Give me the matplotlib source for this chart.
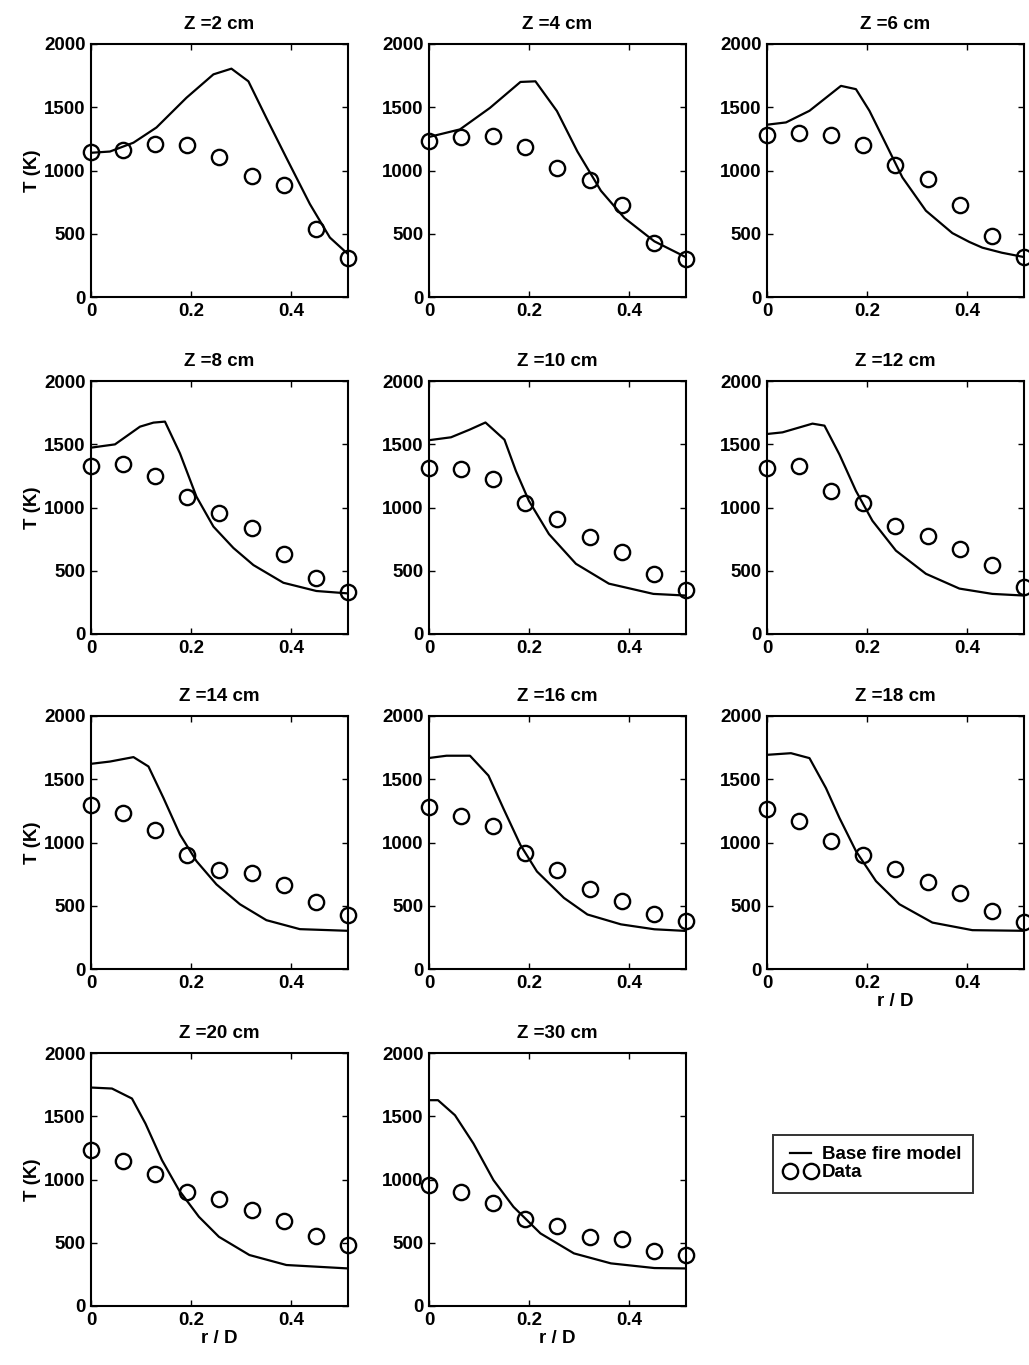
import matplotlib
matplotlib.use("Agg")
import matplotlib.pyplot as plt
from matplotlib.lines import Line2D

plt.rcParams["font.family"] = ["Liberation Sans", "DejaVu Sans"]
plt.rcParams["font.weight"] = "bold"

# Measurement radii (r/D)
r_data = [0, 0.0643, 0.1286, 0.1929, 0.2571, 0.3214, 0.3857, 0.45, 0.5143]

# Heights (cm)
heights = [2, 4, 6, 8, 10, 12, 14, 16, 18, 20, 30]

# Base fire model profiles (r/D, T in K) and measured temperatures
model_r_z2 = [0, 0.038, 0.085, 0.131, 0.191, 0.245, 0.281, 0.315, 0.351, 0.391, 0.438, 0.478, 0.514]
model_T_z2 = [1140, 1150, 1220, 1340, 1575, 1760, 1805, 1705, 1415, 1100, 735, 470, 340]
data_T_z2 = [1150, 1160, 1210, 1205, 1105, 955, 885, 540, 310]

model_r_z4 = [0, 0.062, 0.122, 0.183, 0.213, 0.256, 0.297, 0.344, 0.391, 0.451, 0.514]
model_T_z4 = [1265, 1325, 1495, 1700, 1705, 1470, 1150, 840, 625, 440, 315]
data_T_z4 = [1232, 1266, 1276, 1182, 1016, 921, 726, 424, 303]

model_r_z6 = [0, 0.038, 0.085, 0.148, 0.178, 0.205, 0.238, 0.271, 0.318, 0.371, 0.405, 0.431, 0.47, 0.514]
model_T_z6 = [1362, 1380, 1472, 1669, 1643, 1472, 1209, 945, 682, 505, 435, 390, 350, 316]
data_T_z6 = [1282, 1295, 1277, 1198, 1045, 932, 727, 479, 316]

model_r_z8 = [0, 0.048, 0.098, 0.125, 0.148, 0.178, 0.211, 0.245, 0.285, 0.325, 0.385, 0.451, 0.514]
model_T_z8 = [1473, 1499, 1639, 1671, 1679, 1428, 1086, 849, 680, 545, 405, 340, 321]
data_T_z8 = [1328, 1341, 1252, 1086, 954, 835, 632, 440, 335]

model_r_z10 = [0, 0.044, 0.081, 0.113, 0.151, 0.174, 0.2, 0.24, 0.294, 0.36, 0.449, 0.514]
model_T_z10 = [1532, 1555, 1615, 1672, 1536, 1288, 1052, 790, 555, 398, 317, 304]
data_T_z10 = [1309, 1301, 1223, 1034, 909, 764, 652, 476, 346]

model_r_z12 = [0, 0.031, 0.091, 0.115, 0.145, 0.178, 0.211, 0.258, 0.318, 0.385, 0.451, 0.514]
model_T_z12 = [1581, 1594, 1663, 1647, 1419, 1131, 895, 659, 476, 359, 317, 304]
data_T_z12 = [1309, 1327, 1131, 1034, 856, 778, 673, 547, 372]

model_r_z14 = [0, 0.038, 0.085, 0.115, 0.145, 0.178, 0.211, 0.251, 0.298, 0.351, 0.418, 0.514]
model_T_z14 = [1622, 1640, 1675, 1601, 1352, 1063, 853, 669, 512, 386, 315, 302]
data_T_z14 = [1299, 1234, 1097, 900, 780, 761, 661, 533, 425]

model_r_z16 = [0, 0.035, 0.082, 0.119, 0.149, 0.183, 0.216, 0.27, 0.317, 0.384, 0.451, 0.514]
model_T_z16 = [1668, 1686, 1686, 1529, 1268, 980, 771, 562, 431, 353, 314, 301]
data_T_z16 = [1281, 1210, 1132, 915, 779, 633, 536, 437, 379]

model_r_z18 = [0, 0.048, 0.085, 0.118, 0.145, 0.178, 0.218, 0.265, 0.331, 0.411, 0.514]
model_T_z18 = [1693, 1706, 1667, 1430, 1194, 932, 695, 512, 367, 307, 302]
data_T_z18 = [1268, 1173, 1011, 900, 787, 688, 598, 459, 368]

model_r_z20 = [0, 0.042, 0.082, 0.109, 0.142, 0.176, 0.216, 0.256, 0.317, 0.391, 0.514]
model_T_z20 = [1727, 1719, 1640, 1442, 1153, 916, 705, 547, 403, 324, 297]
data_T_z20 = [1232, 1145, 1047, 903, 845, 758, 671, 553, 482]

model_r_z30 = [0, 0.018, 0.052, 0.089, 0.129, 0.169, 0.223, 0.29, 0.364, 0.451, 0.514]
model_T_z30 = [1627, 1627, 1508, 1284, 995, 784, 574, 416, 337, 300, 297]
data_T_z30 = [958, 903, 813, 687, 629, 547, 529, 437, 403]

model_r = [model_r_z2, model_r_z4, model_r_z6, model_r_z8, model_r_z10, model_r_z12,
           model_r_z14, model_r_z16, model_r_z18, model_r_z20, model_r_z30]
model_T = [model_T_z2, model_T_z4, model_T_z6, model_T_z8, model_T_z10, model_T_z12,
           model_T_z14, model_T_z16, model_T_z18, model_T_z20, model_T_z30]
data_T = [data_T_z2, data_T_z4, data_T_z6, data_T_z8, data_T_z10, data_T_z12,
          data_T_z14, data_T_z16, data_T_z18, data_T_z20, data_T_z30]

x_ticks = [0, 0.2, 0.4]
x_ticklabels = ["0", "0.2", "0.4"]
y_ticks = [0, 500, 1000, 1500, 2000]

W, H = 1029, 1365
fig = plt.figure(figsize=(W / 100, H / 100), dpi=100)

col_left = [91, 429, 767]
row_top = [44, 381, 716, 1053]
ax_w, ax_h = 257, 253
FS = 13.5

for i, z in enumerate(heights):
    row, col = divmod(i, 3)
    left = col_left[col] / W
    bottom = 1 - (row_top[row] + ax_h) / H
    ax = fig.add_axes([left, bottom, ax_w / W, ax_h / H])
    ax.plot(model_r[i], model_T[i], color="black", lw=1.6, solid_joinstyle="round")
    ax.plot(r_data, data_T[i], linestyle="none", marker="o", markersize=11,
            markerfacecolor="none", markeredgecolor="black", markeredgewidth=1.7,
            clip_on=False)
    ax.set_xlim(0, 0.5143)
    ax.set_ylim(0, 2000)
    ax.set_xticks(x_ticks)
    ax.set_xticklabels(x_ticklabels)
    ax.set_yticks(y_ticks)
    ax.tick_params(direction="in", length=4, width=1, top=True, right=True,
                   labelsize=FS, pad=4)
    for lab in ax.get_xticklabels() + ax.get_yticklabels():
        lab.set_fontweight("bold")
    for sp in ax.spines.values():
        sp.set_linewidth(1.5)
    ax.set_title(f"Z ={z} cm", fontsize=FS, fontweight="bold", pad=11)
    if col == 0:
        ax.set_ylabel("T (K)", fontsize=FS, fontweight="bold", labelpad=2)
    if z in (18, 20, 30):
        ax.set_xlabel("r / D", fontsize=FS, fontweight="bold", labelpad=1)

handles = [
    Line2D([], [], color="black", lw=1.6),
    Line2D([], [], linestyle="none", marker="o", markersize=11,
           markerfacecolor="none", markeredgecolor="black", markeredgewidth=1.7),
]
leg = fig.legend(handles, ["Base fire model", "Data"], loc="upper left",
                 bbox_to_anchor=(773 / W, 1 - 1135 / H), frameon=True,
                 fancybox=False, edgecolor="black", borderpad=0.6,
                 handlelength=1.7, handletextpad=0.3, labelspacing=0.05,
                 borderaxespad=0, numpoints=2,
                 prop={"size": FS, "weight": "bold"})
leg.get_frame().set_linewidth(1.4)

fig.savefig("out.png", dpi=100)
